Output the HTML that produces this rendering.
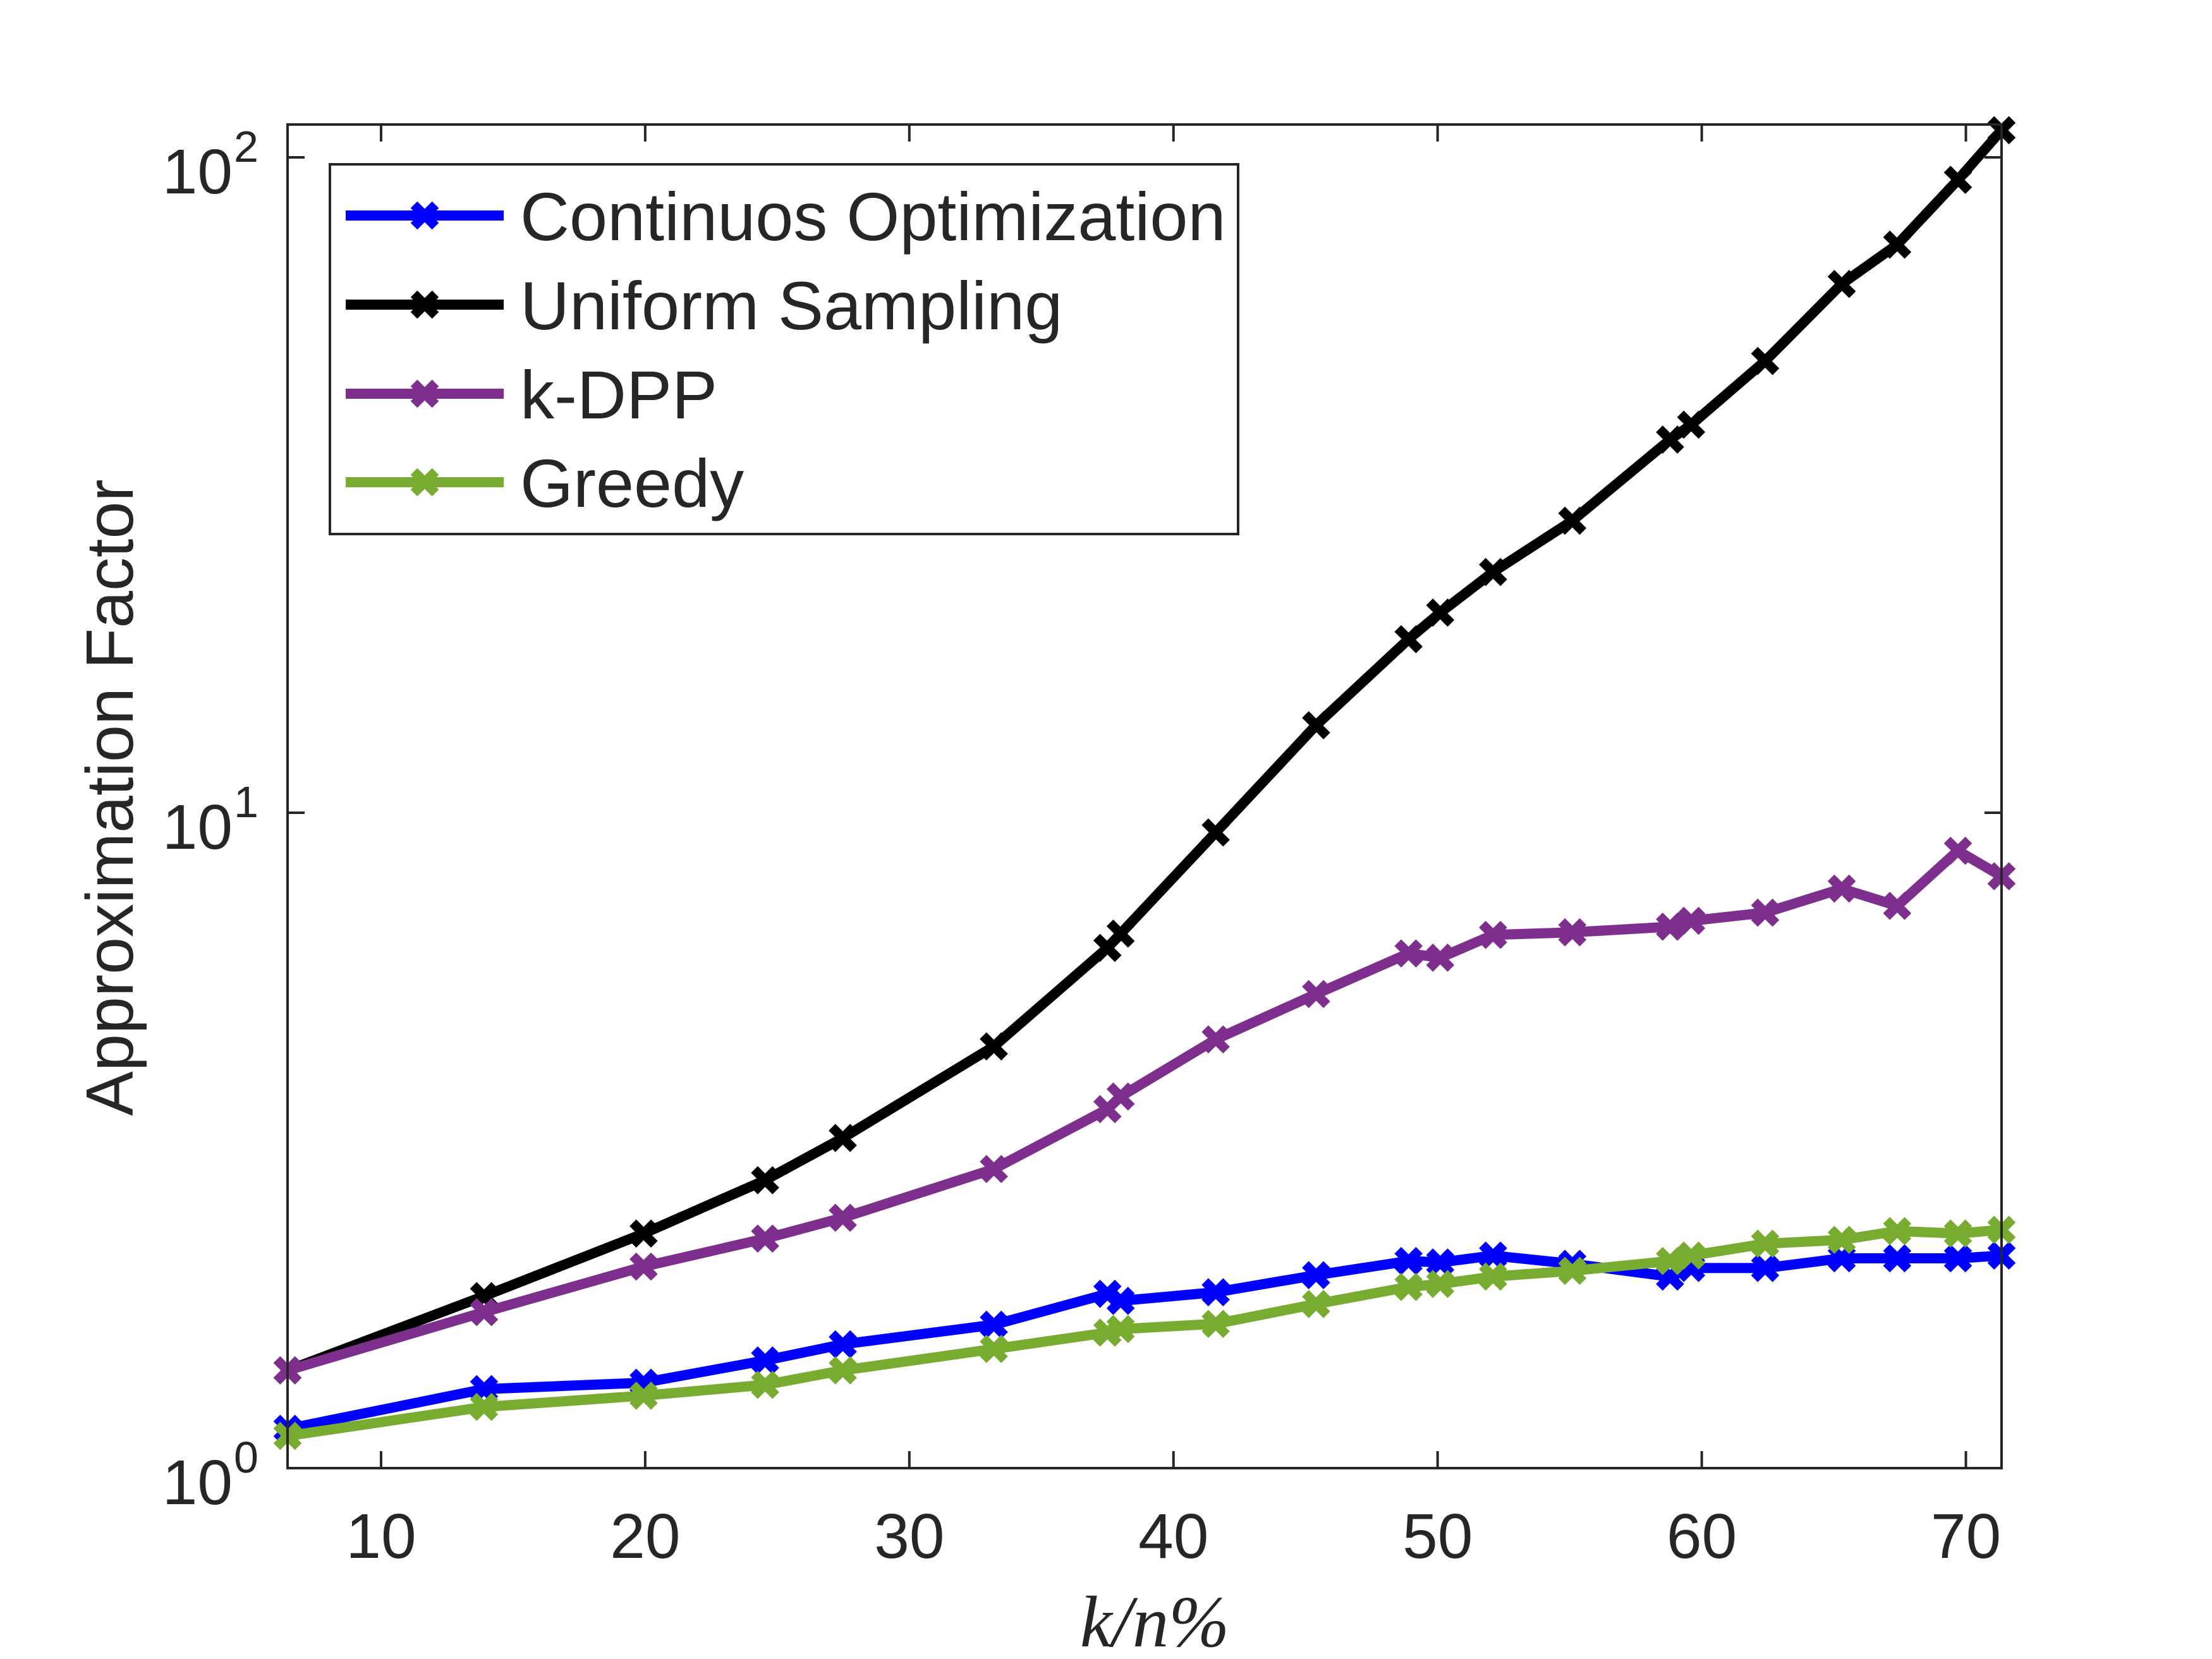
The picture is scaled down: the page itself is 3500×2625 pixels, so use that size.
<!DOCTYPE html>
<html><head><meta charset="utf-8"><style>
html,body{margin:0;padding:0;background:#fff;}
svg{display:block;}
text{font-family:"Liberation Sans",Arial,sans-serif;fill:#262626;}
</style></head><body>
<svg id="chart" width="3500" height="2625" viewBox="0 0 3500 2625" xmlns="http://www.w3.org/2000/svg">
<rect x="0" y="0" width="3500" height="2625" fill="#fff"/>
<g id="plot"></g>
<g id="axes"></g>
<g id="legend"></g>
</svg>
<script>
const xValues = [6.46, 13.9, 19.94, 24.54, 27.48, 33.2, 37.5, 38.0, 41.6, 45.4, 48.9, 50.1, 52.1, 55.1, 58.8, 59.6, 62.4, 65.3, 67.4, 69.7, 71.35];
const uniformValues = [1.41, 1.83, 2.28, 2.75, 3.19, 4.40, 6.22, 6.54, 9.33, 13.6, 18.4, 20.2, 23.3, 27.9, 37.1, 39.1, 48.9, 64.1, 73.6, 92.4, 110];
const kdppValues = [1.41, 1.73, 2.03, 2.24, 2.41, 2.86, 3.53, 3.69, 4.51, 5.29, 6.10, 6.01, 6.51, 6.57, 6.70, 6.84, 7.04, 7.66, 7.21, 8.75, 8.00];
const continuousValues = [1.148, 1.32, 1.35, 1.46, 1.545, 1.655, 1.845, 1.80, 1.855, 1.97, 2.07, 2.06, 2.11, 2.05, 1.96, 2.02, 2.02, 2.09, 2.09, 2.09, 2.11];
const greedyValues = [1.12, 1.24, 1.29, 1.34, 1.41, 1.52, 1.61, 1.63, 1.66, 1.78, 1.89, 1.91, 1.96, 2.00, 2.07, 2.11, 2.20, 2.23, 2.30, 2.28, 2.31];
const xTicks = [10, 20, 30, 40, 50, 60, 70];
const yTickExponents = [0, 1, 2];
const seriesNames = ["Continuos Optimization", "Uniform Sampling", "k-DPP", "Greedy"];

const NS = "http://www.w3.org/2000/svg";
const L = 455, R = 3167, T = 197, B = 2323;
const xMin = 6.46, xMax = 71.35;
const decade = 1037;
function xs(v){ return L + (v - xMin) / (xMax - xMin) * (R - L); }
function ys(v){ return B - Math.log10(v) * decade; }
function mk(tag, attrs, parent){ const e = document.createElementNS(NS, tag); for (const k in attrs) e.setAttribute(k, attrs[k]); parent.appendChild(e); return e; }

const plot = document.getElementById('plot');
const axes = document.getElementById('axes');
const legend = document.getElementById('legend');

function marker(cx, cy, color, parent, nm){
  const s = 17;
  const p = mk('path', {d:`M${cx-s},${cy-s}L${cx+s},${cy+s}M${cx-s},${cy+s}L${cx+s},${cy-s}`, stroke:color, 'stroke-width':15, fill:'none'}, parent);
  
  
}

const series = [
  {vals: continuousValues, color:'#0000ff', nm:'continuous-optimization'},
  {vals: uniformValues, color:'#000000', nm:'uniform-sampling'},
  {vals: kdppValues, color:'#7e2f8e', nm:'k-dpp'},
  {vals: greedyValues, color:'#77ac30', nm:'greedy'}
];
[1,2,0,3].forEach(i => {
  const s = series[i];
  const g = mk('g', {}, plot);
  
  
  const pts = s.vals.map((v, j) => xs(xValues[j]).toFixed(1) + ',' + ys(v).toFixed(1)).join(' ');
  const pl = mk('polyline', {points: pts, fill:'none', stroke:s.color, 'stroke-width':16, 'stroke-linejoin':'round'}, g);
  
  
  s.vals.forEach((v, j) => marker(xs(xValues[j]), ys(v), s.color, g, s.nm + '-marker'));
});

const box = mk('rect', {x:L, y:T, width:R-L, height:B-T, fill:'none', stroke:'#262626', 'stroke-width':4}, axes);


const tl = 27;
xTicks.forEach(t => {
  const x = xs(t);
  const a = mk('path', {d:`M${x},${B}V${B-tl}M${x},${T}V${T+tl}`, stroke:'#262626', 'stroke-width':4}, axes);
  
  
  const tx = mk('text', {x:x, y:2465, 'font-size':100, 'text-anchor':'middle'}, axes);
  tx.textContent = String(t);
  
  
});
yTickExponents.forEach(e => {
  const y = ys(Math.pow(10, e));
  const a = mk('path', {d:`M${L},${y}H${L+tl}M${R},${y}H${R-tl}`, stroke:'#262626', 'stroke-width':4}, axes);
  
  
  const tx = mk('text', {x:368, y:y+57, 'font-size':100, 'text-anchor':'end'}, axes);
  tx.textContent = '10';
  
  
  const sp = mk('text', {x:370, y:y+7, 'font-size':70, 'text-anchor':'start'}, axes);
  sp.textContent = String(e);
  
  
});
const yl = mk('text', {x:0, y:0, 'font-size':106, 'text-anchor':'middle', transform:'translate(210,1262) rotate(-90)'}, axes);
yl.textContent = 'Approximation Factor';


const xl = mk('text', {x:1827, y:2605, 'font-size':115, 'text-anchor':'middle', 'font-style':'italic', style:'font-family:"Liberation Serif",serif'}, axes);
xl.textContent = 'k/n%';



const lb = mk('rect', {x:522, y:260, width:1437, height:585, fill:'#fff', stroke:'#262626', 'stroke-width':4}, legend);


const rowsY = [341, 482, 623, 763];
seriesNames.forEach((n, i) => {
  const g = mk('g', {}, legend);
  
  
  const y = rowsY[i];
  mk('line', {x1:547, y1:y, x2:797, y2:y, stroke:series[i].color, 'stroke-width':16}, g);
  marker(672, y, series[i].color, g, 'legend-marker');
  const t = mk('text', {x:823, y:y+39, 'font-size':108}, g);
  t.textContent = n;
  
  
});
</script>
</body></html>
